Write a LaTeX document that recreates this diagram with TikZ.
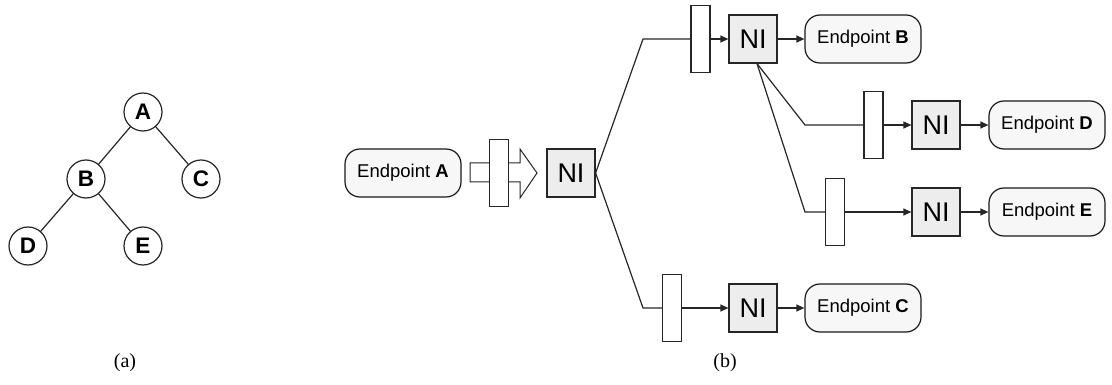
\documentclass[tikz,border=0pt]{standalone}
\usepackage{fontspec}
\setmainfont{Liberation Sans}
\newfontfamily\capfont{Liberation Serif}
\usetikzlibrary{arrows.meta}

\begin{document}
\begin{tikzpicture}[x=1pt,y=-1pt,
  line width=1.2pt,
  wire/.style={draw=black!85},
  flow/.style={wire,-{Triangle[length=8pt,width=7pt]}},
  treenode/.style={circle,draw=black!85,fill=white,minimum size=38pt,inner sep=0pt,
    font=\fontsize{22.5}{25}\selectfont\bfseries},
  endpoint/.style={draw=black!90,fill=black!3,rounded corners=15pt,minimum width=116pt,
    minimum height=48pt,inner sep=0pt,font=\fontsize{18.5}{21}\selectfont},
  nibox/.style={draw=black!85,fill=black!7,minimum width=48pt,minimum height=48pt,
    inner sep=0pt,font=\fontsize{27}{30}\selectfont},
  bar/.style={draw=black!85,fill=white,minimum width=19pt,minimum height=67pt,inner sep=0pt},
  caption/.style={font=\capfont\fontsize{20}{22}\selectfont}
]
\useasboundingbox (0,0) rectangle (1112,385);

% ---------- (a) binary tree ----------
\node[treenode] (tA) at (143,112) {A};
\node[treenode] (tB) at (86,179) {B};
\node[treenode] (tC) at (201,179) {C};
\node[treenode] (tD) at (28,246) {D};
\node[treenode] (tE) at (143,246) {E};
\draw[wire] (tA) -- (tB);
\draw[wire] (tA) -- (tC);
\draw[wire] (tB) -- (tD);
\draw[wire] (tB) -- (tE);

% ---------- (b) network interfaces ----------
\node[endpoint] (epA) at (403,173) {Endpoint \textbf{A}};

% hollow block arrow into the first NI
\draw[draw=black!85,fill=white,line width=1pt]
  (470,163) -- (520,163) -- (520,149) -- (537,173) -- (520,198) -- (520,182) -- (470,182) -- cycle;
\node[bar,line width=1pt] (bar0) at (499,173) {};

\node[nibox] (ni0) at (571,173) {NI};

% upper branch
\coordinate (k1) at (643,39);
\node[bar] (bar1) at (700.5,39) {};
\node[nibox] (ni1) at (753,39) {NI};
\node[endpoint] (epB) at (863,39) {Endpoint \textbf{B}};
\draw[wire] (ni0.east) -- (k1) -- (bar1.west);
\draw[flow] (bar1.east) -- (ni1.west);
\draw[flow] (ni1.east) -- (epB.west);

% lower branch
\coordinate (k2) at (643,308);
\node[bar] (bar2) at (672,308) {};
\node[nibox] (ni2) at (753,308) {NI};
\node[endpoint] (epC) at (863,308) {Endpoint \textbf{C}};
\draw[wire] (ni0.east) -- (k2) -- (bar2.west);
\draw[flow] (bar2.east) -- (ni2.west);
\draw[flow] (ni2.east) -- (epC.west);

% second level below the upper NI
\coordinate (fork) at ([xshift=4pt]ni1.south);
\coordinate (k3) at (805,125);
\node[bar] (bar3) at (873.5,125) {};
\node[nibox] (ni3) at (936,125) {NI};
\node[endpoint] (epD) at (1047,125) {Endpoint \textbf{D}};
\draw[wire] (fork) -- (k3) -- (bar3.west);
\draw[flow] (bar3.east) -- (ni3.west);
\draw[flow] (ni3.east) -- (epD.west);

\coordinate (k4) at (805,212);
\node[bar] (bar4) at (835,212) {};
\node[nibox] (ni4) at (936,212) {NI};
\node[endpoint] (epE) at (1047,212) {Endpoint \textbf{E}};
\draw[wire] (fork) -- (k4) -- (bar4.west);
\draw[flow] (bar4.east) -- (ni4.west);
\draw[flow] (ni4.east) -- (epE.west);

% captions
\node[caption] (capA) at (125,363) {(a)};
\node[caption] (capB) at (725,363) {(b)};
\end{tikzpicture}
\end{document}
